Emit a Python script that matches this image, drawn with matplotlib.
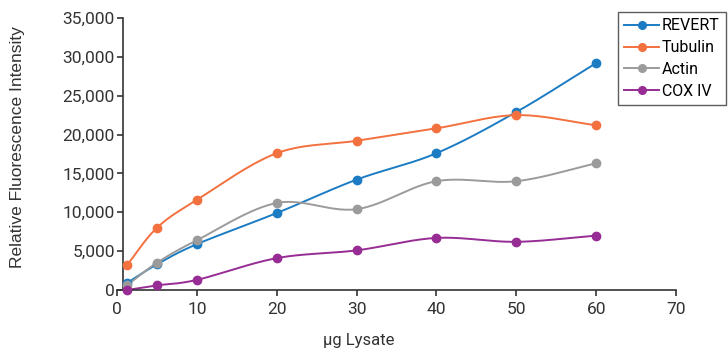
import numpy as np
import matplotlib as mpl
import matplotlib.pyplot as plt
from matplotlib.ticker import FuncFormatter

mpl.rcParams['font.family'] = ['Roboto', 'DejaVu Sans']

#--------------------------------------------------
# data
#--------------------------------------------------
lysate = [1.25, 5, 10, 20, 30, 40, 50, 60]
revert = [900, 3300, 5900, 9900, 14200, 17600, 22900, 29200]
tubulin = [3200, 8000, 11600, 17600, 19200, 20800, 22500, 21200]
actin = [600, 3500, 6400, 11200, 10400, 14000, 14000, 16300]
cox4 = [0, 600, 1300, 4100, 5100, 6700, 6200, 7000]

names = ['REVERT', 'Tubulin', 'Actin', 'COX IV']
colors = ['#1b7cc3', '#f3703f', '#9b9b9b', '#962c94']

#--------------------------------------------------
def smooth(x, y, n=30):
    # catmull-rom curve through the points, only for drawing
    x = np.asarray(x, float)
    y = np.asarray(y, float)
    px = np.concatenate([[2*x[0]-x[1]], x, [2*x[-1]-x[-2]]])
    py = np.concatenate([[2*y[0]-y[1]], y, [2*y[-1]-y[-2]]])
    xs, ys = [], []
    t = np.linspace(0, 1, n)
    for i in range(1, len(px)-2):
        for p, out in ((px, xs), (py, ys)):
            p0, p1, p2, p3 = p[i-1], p[i], p[i+1], p[i+2]
            out.extend(0.5*((2*p1) + (-p0+p2)*t + (2*p0-5*p1+4*p2-p3)*t**2 + (-p0+3*p1-3*p2+p3)*t**3))
    return np.array(xs), np.array(ys)

#--------------------------------------------------
fig = plt.figure(figsize=(7.28, 3.52), dpi=100)
ax = fig.add_axes([117/728, 62/352, 559/728, 272/352])

handles = []
for vals, name, c in zip([revert, tubulin, actin, cox4], names, colors):
    sx, sy = smooth(lysate, vals)
    ax.plot(sx, sy, color=c, lw=1.4, clip_on=False)
    ax.plot(lysate, vals, 'o', color=c, ms=6, zorder=3, clip_on=False)
    h, = ax.plot([], [], '-o', color=c, lw=1.4, ms=5.5, label=name)
    handles.append(h)

ax.set_xlim(0, 70)
ax.set_ylim(0, 35000)
ax.set_xticks(np.arange(0, 71, 10))
ax.set_yticks(np.arange(0, 35001, 5000))
ax.yaxis.set_major_formatter(FuncFormatter(lambda v, p: f'{int(v):,}'))
ax.spines['top'].set_visible(False)
ax.spines['right'].set_visible(False)
ax.spines['left'].set_position(('data', 0.7))
for s in ('left', 'bottom'):
    ax.spines[s].set_color('#333333')
    ax.spines[s].set_linewidth(1.2)
ax.tick_params(axis='both', labelsize=12.5, colors='#333333', length=4, width=1.2)
ax.tick_params(axis='y', pad=1.5)
ax.tick_params(axis='x', pad=4.5)

fig.text(18/728, 1 - 147/352, 'Relative Fluorescence Intensity', rotation=90,
         ha='center', va='center', fontsize=12.5, color='#333333',
         family=['Liberation Sans', 'DejaVu Sans'])
fig.text(359/728, 1 - 340/352, 'µg Lysate', ha='center', va='center',
         fontsize=12, color='#333333')

leg = fig.legend(handles=handles, loc='upper right', bbox_to_anchor=(726/728, 1 - 12/352),
                 fontsize=11.5, frameon=True, fancybox=False, handlelength=2.2,
                 handletextpad=0.15, borderpad=0.4, labelspacing=0.42, borderaxespad=0)
leg.get_frame().set_edgecolor('#333333')
leg.get_frame().set_linewidth(1.0)

plt.savefig('out.png', dpi=100)
